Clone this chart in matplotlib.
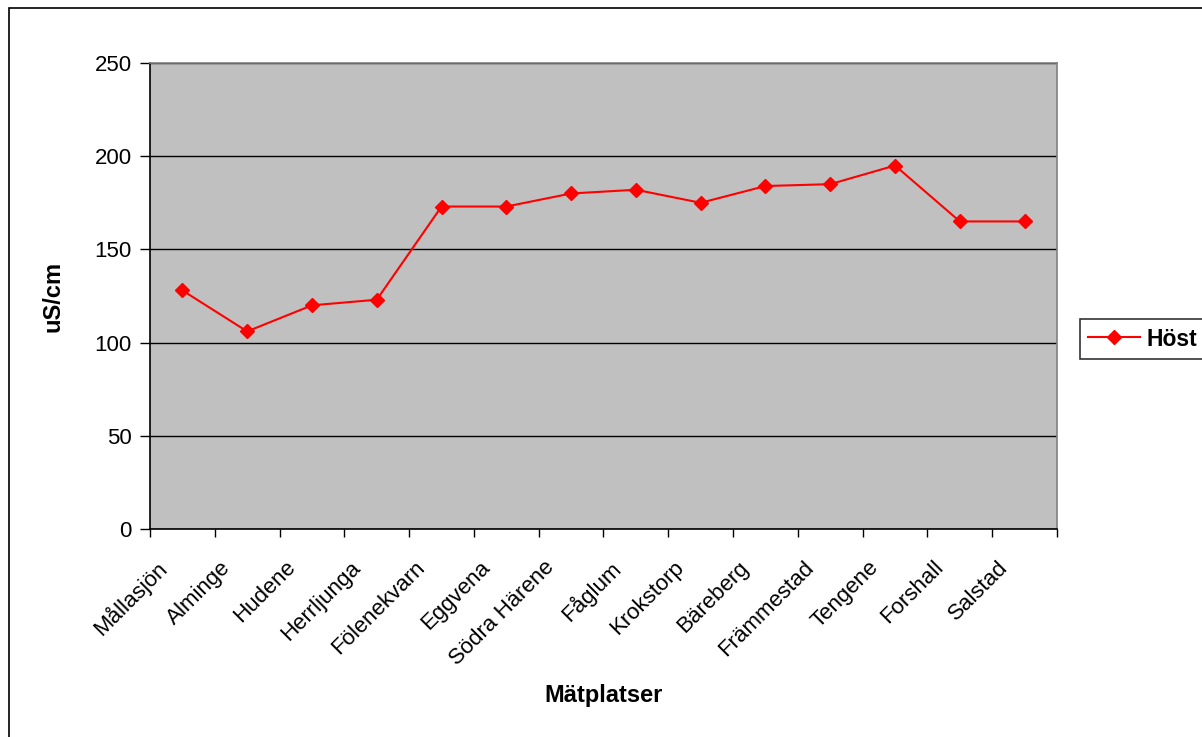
import matplotlib.pyplot as plt
import numpy as np
from matplotlib.patches import Rectangle
from matplotlib.transforms import ScaledTranslation

plt.rcParams['font.family'] = ['Liberation Sans', 'DejaVu Sans']

# data
sites = ['Mållasjön', 'Alminge', 'Hudene', 'Herrljunga', 'Fölenekvarn', 'Eggvena',
         'Södra Härene', 'Fåglum', 'Krokstorp', 'Bäreberg', 'Främmestad', 'Tengene',
         'Forshall', 'Salstad']
host = [128, 106, 120, 123, 173, 173, 180, 182, 175, 184, 185, 195, 165, 165]
y_ticks = [0, 50, 100, 150, 200, 250]

fig = plt.figure(figsize=(12.02, 7.37), dpi=100)
ax = fig.add_axes([150 / 1202, 1 - 529 / 737, 907 / 1202, 466 / 737])
ax.set_facecolor('#c0c0c0')

x = np.arange(len(sites))
line, = ax.plot(x, host, color='#ff0000', lw=1.5, marker='D', ms=7,
                markeredgecolor='#ff0000', label='Höst', zorder=3)

ax.set_xlim(-0.5, len(sites) - 0.5)
ax.set_ylim(0, 250)
ax.set_yticks(y_ticks)
ax.set_yticklabels([str(v) for v in y_ticks])
ax.yaxis.grid(True, color='black', lw=1)
ax.set_axisbelow(True)

# category ticks between points, labels at the points
ax.set_xticks(np.arange(len(sites) + 1) - 0.5)
ax.set_xticklabels([])
ax.set_xticks(x, minor=True)
ax.set_xticklabels(sites, minor=True, rotation=45, ha='right', va='top',
                   rotation_mode='anchor', fontsize=16)
ax.tick_params(axis='x', which='minor', length=0, pad=0)
ax.tick_params(axis='x', which='major', length=6, width=1, direction='out')
ax.tick_params(axis='y', length=7, width=1, direction='out', labelsize=16, pad=6)
shift = ScaledTranslation(-0.27, -0.28, fig.dpi_scale_trans)
for lab in ax.get_xticklabels(minor=True):
    lab.set_transform(lab.get_transform() + shift)

for s in ['left', 'bottom']:
    ax.spines[s].set_color('black')
    ax.spines[s].set_linewidth(1.2)
for s in ['top', 'right']:
    ax.spines[s].set_color('#808080')
    ax.spines[s].set_linewidth(1.2)

ax.set_ylabel('uS/cm', fontsize=17, fontweight='bold')
ax.yaxis.set_label_coords(-0.094, 0.5)
ax.set_xlabel('Mätplatser', fontsize=17, fontweight='bold')
ax.xaxis.set_label_coords(0.5, -0.333)

leg = fig.legend(handles=[line], loc='center left',
                 bbox_to_anchor=(1080 / 1202, 1 - 339 / 737), frameon=True,
                 fancybox=False, edgecolor='black', fontsize=16.5,
                 handlelength=2.25, handletextpad=0.3, borderpad=0.35,
                 borderaxespad=0)
leg.get_frame().set_linewidth(1.2)
for t in leg.get_texts():
    t.set_fontweight('bold')

# outer chart frame
fig.patches.append(Rectangle((9 / 1202, -0.1), 1.2, 1 - 8 / 737 + 0.1,
                             transform=fig.transFigure, fill=False,
                             edgecolor='black', lw=1.2))

fig.savefig('out.png', dpi=100)
